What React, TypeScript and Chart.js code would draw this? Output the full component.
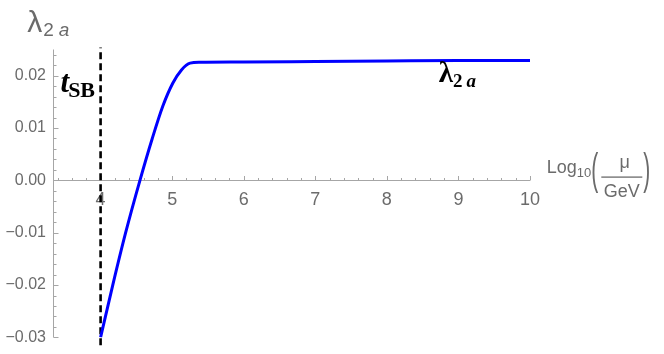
import React, { useEffect, useRef } from "react";
import { Chart, registerables } from "chart.js";

Chart.register(...registerables);

// Curve data: lambda_2a vs Log10(mu/GeV)
const xValues = [4.0, 4.17, 4.35, 4.55, 4.72, 4.87, 5.01, 5.13, 5.25, 5.39, 6, 7, 8, 9, 10];
const lambdaValues = [-0.03, -0.02, -0.01, 0.0, 0.0079, 0.0142, 0.0186, 0.0211, 0.0224, 0.02255, 0.0226, 0.0227, 0.0228, 0.0229, 0.0229];

// Symmetry-breaking scale line
const tSB = 4;
const tSBRange = [-0.0315, 0.0254];

// Ticks
const xMajorTicks = [4, 5, 6, 7, 8, 9, 10];
const yMajorTicks = [-0.03, -0.02, -0.01, 0, 0.01, 0.02];

const X_MIN = 3.335;
const X_MAX = 10;
const Y_MIN = -0.03;
const Y_MAX = 0.025;

const AXIS_COLOR = "#a6a6a6";
const LABEL_COLOR = "#6b6b6b";
const SANS = "'Liberation Sans', Arial, sans-serif";
const SERIF = "'Liberation Serif', 'Times New Roman', serif";

const fmtY = (v: number) => {
  const s = Math.abs(v) < 1e-9 ? "0.00" : v.toFixed(2);
  return s.replace("-", "\u2212");
};

const mmaPlugin = {
  id: "mmaAxes",
  beforeDatasetsDraw(chart: any) {
    const { ctx, scales } = chart;
    const x = scales.x;
    const y = scales.y;
    const y0 = Math.round(y.getPixelForValue(0)) + 0.5;
    const xl = Math.round(x.left) + 0.5;
    ctx.save();
    ctx.strokeStyle = AXIS_COLOR;
    ctx.lineWidth = 1;
    ctx.beginPath();
    ctx.moveTo(x.left, y0);
    ctx.lineTo(x.right, y0);
    ctx.moveTo(xl, y.top);
    ctx.lineTo(xl, y.bottom);
    // x ticks
    for (let i = 0; i <= 34; i++) {
      const v = 3.4 + i * 0.2;
      if (v > X_MAX + 1e-6) break;
      const isMajor = Math.abs(v - Math.round(v)) < 1e-6;
      const px = Math.round(x.getPixelForValue(v)) + 0.5;
      ctx.moveTo(px, y0);
      ctx.lineTo(px, y0 - (isMajor ? 4.5 : 2.5));
    }
    // y ticks
    for (let i = 0; i <= 27; i++) {
      const v = -0.03 + i * 0.002;
      if (v > Y_MAX + 1e-9) break;
      const isMajor = Math.abs(v * 100 - Math.round(v * 100)) < 1e-6;
      const py = Math.round(y.getPixelForValue(v)) + 0.5;
      ctx.moveTo(xl, py);
      ctx.lineTo(xl + (isMajor ? 5 : 3), py);
    }
    ctx.stroke();
    ctx.restore();
  },
  afterDraw(chart: any) {
    const { ctx, scales } = chart;
    const x = scales.x;
    const y = scales.y;
    ctx.save();
    ctx.textBaseline = "alphabetic";
    ctx.textAlign = "left";

    // Y axis title: λ_{2 a}
    {
      const px = x.getPixelForValue(2.975);
      const py = y.getPixelForValue(0.0284);
      ctx.fillStyle = LABEL_COLOR;
      ctx.font = `30px ${SANS}`;
      ctx.fillText("λ", px, py);
      const w = ctx.measureText("λ").width;
      ctx.font = `19px ${SANS}`;
      ctx.fillText("2", px + w + 1, py + 4);
      const w2 = ctx.measureText("2").width;
      ctx.font = `italic 19px ${SANS}`;
      ctx.fillText("a", px + w + 1 + w2 + 5, py + 4);
    }

    // X axis title: Log10(μ/GeV)
    {
      const px = x.getPixelForValue(10.235);
      const py = y.getPixelForValue(0.00132);
      ctx.fillStyle = LABEL_COLOR;
      ctx.font = `18px ${SANS}`;
      ctx.fillText("Log", px, py);
      let cx = px + ctx.measureText("Log").width;
      ctx.font = `13px ${SANS}`;
      ctx.fillText("10", cx, py + 4);
      cx += ctx.measureText("10").width;
      // big left paren
      ctx.save();
      ctx.translate(cx, py + 11);
      ctx.scale(1, 2.1);
      ctx.font = `21px ${SANS}`;
      ctx.fillText("(", 0, 0);
      ctx.restore();
      ctx.font = `21px ${SANS}`;
      cx += ctx.measureText("(").width + 3;
      // fraction
      const fw = 41;
      ctx.font = `18px ${SANS}`;
      ctx.textAlign = "center";
      ctx.fillText("μ", cx + fw / 2 + 3, py - 5);
      ctx.fillText("GeV", cx + fw / 2, py + 24);
      ctx.fillRect(cx, py + 3, fw, 1.3);
      ctx.textAlign = "left";
      cx += fw + 1;
      ctx.save();
      ctx.translate(cx, py + 11);
      ctx.scale(1, 2.1);
      ctx.font = `21px ${SANS}`;
      ctx.fillText(")", 0, 0);
      ctx.restore();
    }

    // t_SB annotation
    {
      const px = x.getPixelForValue(3.44);
      const py = y.getPixelForValue(0.0168);
      ctx.fillStyle = "#000";
      ctx.font = `italic bold 31px ${SERIF}`;
      ctx.fillText("t", px, py);
      const w = ctx.measureText("t").width;
      ctx.font = `bold 22px ${SERIF}`;
      ctx.fillText("SB", px + w - 1, py + 4.5);
    }

    // λ_{2 a} annotation
    {
      const px = x.getPixelForValue(8.725);
      const py = y.getPixelForValue(0.0187);
      ctx.fillStyle = "#000";
      ctx.font = `bold 29px ${SERIF}`;
      ctx.fillText("λ", px, py);
      const w = ctx.measureText("λ").width;
      ctx.font = `bold 19px ${SERIF}`;
      ctx.fillText("2", px + w, py + 5);
      const w2 = ctx.measureText("2").width;
      ctx.font = `italic bold 19px ${SERIF}`;
      ctx.fillText("a", px + w + w2 + 4, py + 5);
    }
    ctx.restore();
  },
};

export default function App() {
  const canvasRef = useRef<HTMLCanvasElement | null>(null);

  useEffect(() => {
    const canvas = canvasRef.current;
    if (!canvas) return;
    const chart = new Chart(canvas, {
      type: "line",
      data: {
        datasets: [
          {
            label: "lambda2a",
            data: xValues.map((xv, i) => ({ x: xv, y: lambdaValues[i] })),
            borderColor: "#0000ff",
            borderWidth: 3,
            pointRadius: 0,
            cubicInterpolationMode: "monotone",
            fill: false,
          },
          {
            label: "tSB",
            data: tSBRange.map((yv) => ({ x: tSB, y: yv })),
            borderColor: "#000000",
            borderWidth: 2.6,
            borderDash: [7, 4],
            pointRadius: 0,
            fill: false,
            clip: false as any,
          },
        ],
      },
      options: {
        animation: false,
        responsive: false,
        devicePixelRatio: 1,
        events: [],
        layout: { padding: { left: 0, right: 134, top: 49.5, bottom: 13 } },
        plugins: {
          legend: { display: false },
          tooltip: { enabled: false },
        },
        scales: {
          x: {
            type: "linear",
            min: X_MIN,
            max: X_MAX,
            position: { y: 0 } as any,
            grid: { display: false, drawTicks: false },
            border: { display: false },
            afterBuildTicks: (s: any) => {
              s.ticks = xMajorTicks.map((v) => ({ value: v }));
            },
            ticks: {
              color: LABEL_COLOR,
              font: { family: SANS, size: 18 },
              padding: 9,
              maxRotation: 0,
              autoSkip: false,
              callback: (v: any) => String(v),
            },
          },
          y: {
            type: "linear",
            min: Y_MIN,
            max: Y_MAX,
            position: "left",
            grid: { display: false, drawTicks: false },
            border: { display: false },
            afterFit: (s: any) => {
              s.width = 53;
            },
            afterBuildTicks: (s: any) => {
              s.ticks = yMajorTicks.map((v) => ({ value: v }));
            },
            ticks: {
              color: LABEL_COLOR,
              font: { family: SANS, size: 16 },
              padding: 7,
              autoSkip: false,
              callback: (v: any) => fmtY(Number(v)),
            },
          },
        },
      },
      plugins: [mmaPlugin],
    });
    return () => chart.destroy();
  }, []);

  return (
    <div style={{ position: "fixed", left: 0, top: 0, width: 664, height: 354, background: "#fff" }}>
      <canvas ref={canvasRef} width={664} height={354} style={{ width: 664, height: 354, display: "block" }} />
    </div>
  );
}
